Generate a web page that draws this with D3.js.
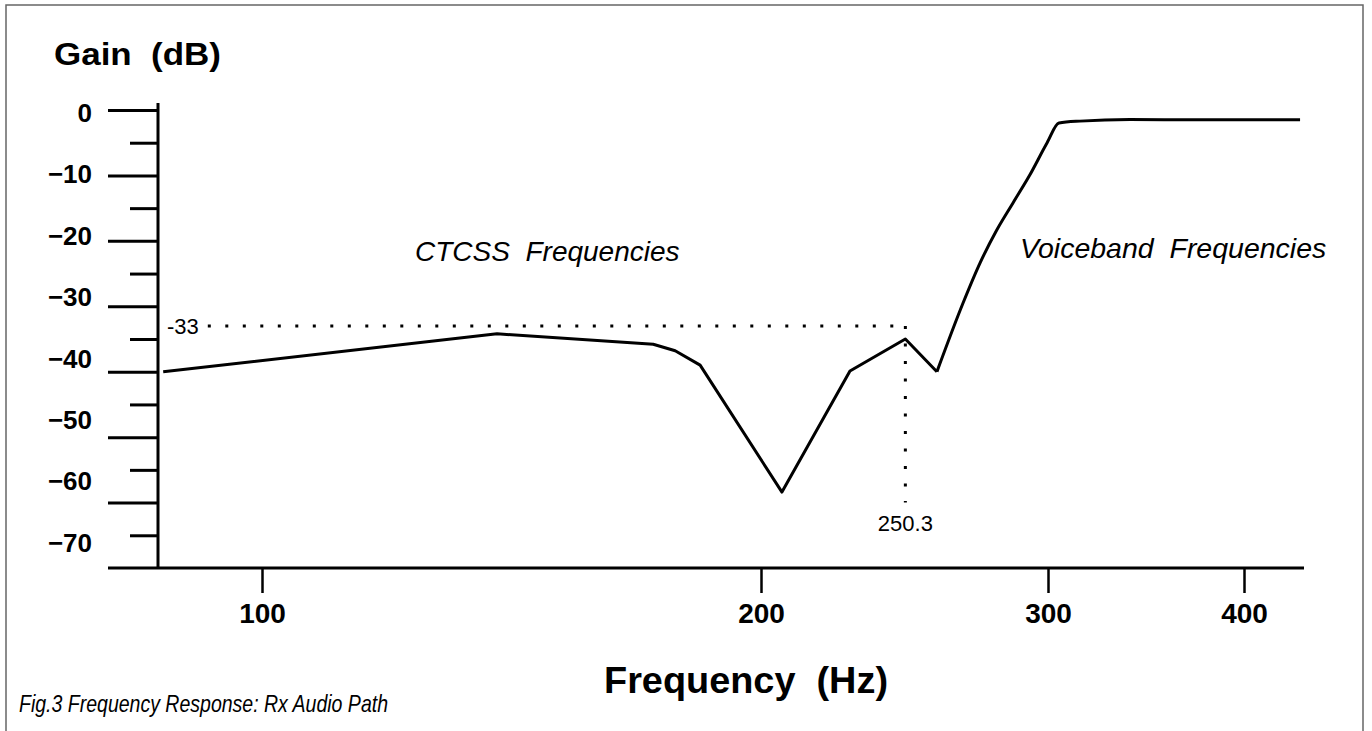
<!DOCTYPE html>
<html>
<head>
<meta charset="utf-8">
<script src="https://cdn.jsdelivr.net/npm/d3@7"></script>
<style>
  body { margin: 0; background: #fff; }
  text { font-family: "Liberation Sans", Arial, sans-serif; fill: #000; }
</style>
</head>
<body>
<div id="chart"></div>
<script>
var width = 1372;
var height = 731;

// frequency response
var freqHz = [80.2, 147.1, 178.4, 182.8, 187.8, 207.3, 231.0, 250.3, 261.3, 270.4, 276.3, 282.2, 287.8, 293.7, 299.7, 305.6, 316.3, 341.8, 377.6, 428.6];
var gainDb = [-40.0, -34.2, -35.8, -36.8, -39.0, -58.4, -39.9, -35.0, -40.0, -29.5, -23.4, -18.3, -14.2, -9.9, -5.0, -2.0, -1.7, -1.45, -1.5, -1.5];

var xTicks = [100, 200, 300, 400];
var yTicks = [-65, -60, -55, -50, -45, -40, -35, -30, -25, -20, -15, -10, -5, 0];
var yLabels = [-70, -60, -50, -40, -30, -20, -10, 0];

// marker for the highest CTCSS tone
var refHz = 250.3;
var refDb = -33;

var svg = d3.select('#chart')
  .append('svg')
  .attr('width', width)
  .attr('height', height);

// frame
svg.append('path')
  .attr('d', 'M6,' + height + 'V5H1363V' + height)
  .attr('fill', 'none')
  .attr('stroke', '#666')
  .attr('stroke-width', 1.5);

// scales (the hand drawn axis is not evenly spaced, so piecewise)
var x = d3.scaleLinear().domain([100, 200, 300, 400]).range([262, 761, 1048, 1244]);
var y = d3.scaleLinear().domain([-70, 0]).range([568, 110]);
// tick labels sit on a slightly tighter spacing than the tick marks
var yLab = d3.scaleLinear().domain([-70, 0]).range([543, 113]);

var axisX = 158;
var axisY = y(-70);

// y ticks
var gy = svg.append('g')
  .attr('transform', 'translate(' + axisX + ',0)')
  .call(d3.axisLeft(y).tickValues(yTicks).tickFormat('').tickSizeOuter(0));
gy.select('.domain').remove();
gy.selectAll('.tick line')
  .attr('stroke', '#000')
  .attr('stroke-width', 3)
  .attr('x2', function(d){ return d % 10 === 0 ? -50 : -28; });

// y labels
var gyl = svg.append('g')
  .attr('transform', 'translate(' + axisX + ',0)')
  .call(d3.axisLeft(yLab).tickValues(yLabels).tickSize(0).tickPadding(66));
gyl.select('.domain').remove();
gyl.selectAll('text')
  .style('font-size', '26px')
  .style('font-weight', 'bold');

// x ticks + labels
var gx = svg.append('g')
  .attr('transform', 'translate(0,' + axisY + ')')
  .call(d3.axisBottom(x).tickValues(xTicks).tickSize(25).tickSizeOuter(0));
gx.select('.domain').remove();
gx.selectAll('.tick line').attr('stroke', '#000').attr('stroke-width', 2.5);
gx.selectAll('text')
  .attr('y', 45)
  .attr('dy', '0.35em')
  .style('font-size', '28px')
  .style('font-weight', 'bold');

// axis lines
svg.append('line')
  .attr('x1', axisX).attr('x2', axisX)
  .attr('y1', y(0) - 7).attr('y2', axisY)
  .attr('stroke', '#000').attr('stroke-width', 3);
svg.append('line')
  .attr('x1', axisX - 50).attr('x2', 1304)
  .attr('y1', axisY).attr('y2', axisY)
  .attr('stroke', '#000').attr('stroke-width', 3);

// -33 dB reference
var refLabel = svg.append('text')
  .text(refDb)
  .attr('x', axisX + 9)
  .attr('y', y(refDb))
  .attr('dy', '0.35em')
  .style('font-size', '22px');
var labW = refLabel.node().getComputedTextLength();

svg.append('line')
  .attr('x1', axisX + 9 + labW + 9).attr('x2', x(refHz))
  .attr('y1', y(refDb)).attr('y2', y(refDb))
  .attr('stroke', '#000').attr('stroke-width', 3)
  .attr('stroke-dasharray', '3 14.5');
svg.append('line')
  .attr('x1', x(refHz)).attr('x2', x(refHz))
  .attr('y1', y(refDb)).attr('y2', y(-60))
  .attr('stroke', '#000').attr('stroke-width', 3)
  .attr('stroke-dasharray', '3 14.5');
svg.append('text')
  .text(refHz)
  .attr('x', x(refHz))
  .attr('y', y(-60) + 21)
  .attr('dy', '0.35em')
  .attr('text-anchor', 'middle')
  .style('font-size', '22px');

// response curve: straight segments through the notch, smooth roll-up after the dip
var pts = d3.zip(freqHz, gainDb);
var split = freqHz.indexOf(261.3);

var lineStraight = d3.line()
  .x(function(d){ return x(d[0]); })
  .y(function(d){ return y(d[1]); });
var lineSmooth = d3.line()
  .curve(d3.curveMonotoneX)
  .x(function(d){ return x(d[0]); })
  .y(function(d){ return y(d[1]); });

svg.append('path')
  .datum(pts.slice(0, split + 1))
  .attr('d', lineStraight)
  .attr('fill', 'none')
  .attr('stroke', '#000')
  .attr('stroke-width', 3)
  .attr('stroke-linejoin', 'round');
svg.append('path')
  .datum(pts.slice(split))
  .attr('d', lineSmooth)
  .attr('fill', 'none')
  .attr('stroke', '#000')
  .attr('stroke-width', 3)
  .attr('stroke-linejoin', 'round');

// band labels
svg.append('text')
  .text('CTCSS  Frequencies')
  .attr('x', 415).attr('y', 261)
  .style('white-space', 'pre')
  .style('font-size', '28px')
  .style('font-style', 'italic');
svg.append('text')
  .text('Voiceband  Frequencies')
  .attr('x', 1020).attr('y', 258)
  .style('white-space', 'pre')
  .style('font-size', '28.5px')
  .style('font-style', 'italic');

// axis titles
svg.append('text')
  .text('Gain  (dB)')
  .attr('x', 54).attr('y', 65)
  .attr('textLength', 167)
  .attr('lengthAdjust', 'spacingAndGlyphs')
  .style('white-space', 'pre')
  .style('font-size', '31px')
  .style('font-weight', 'bold');
svg.append('text')
  .text('Frequency  (Hz)')
  .attr('x', 604).attr('y', 693)
  .attr('textLength', 284)
  .attr('lengthAdjust', 'spacingAndGlyphs')
  .style('white-space', 'pre')
  .style('font-size', '37px')
  .style('font-weight', 'bold');

svg.append('text')
  .text('Fig.3 Frequency Response: Rx Audio Path')
  .attr('x', 19).attr('y', 712)
  .attr('textLength', 369)
  .attr('lengthAdjust', 'spacingAndGlyphs')
  .style('font-size', '24px')
  .style('font-style', 'italic');
</script>
</body>
</html>
